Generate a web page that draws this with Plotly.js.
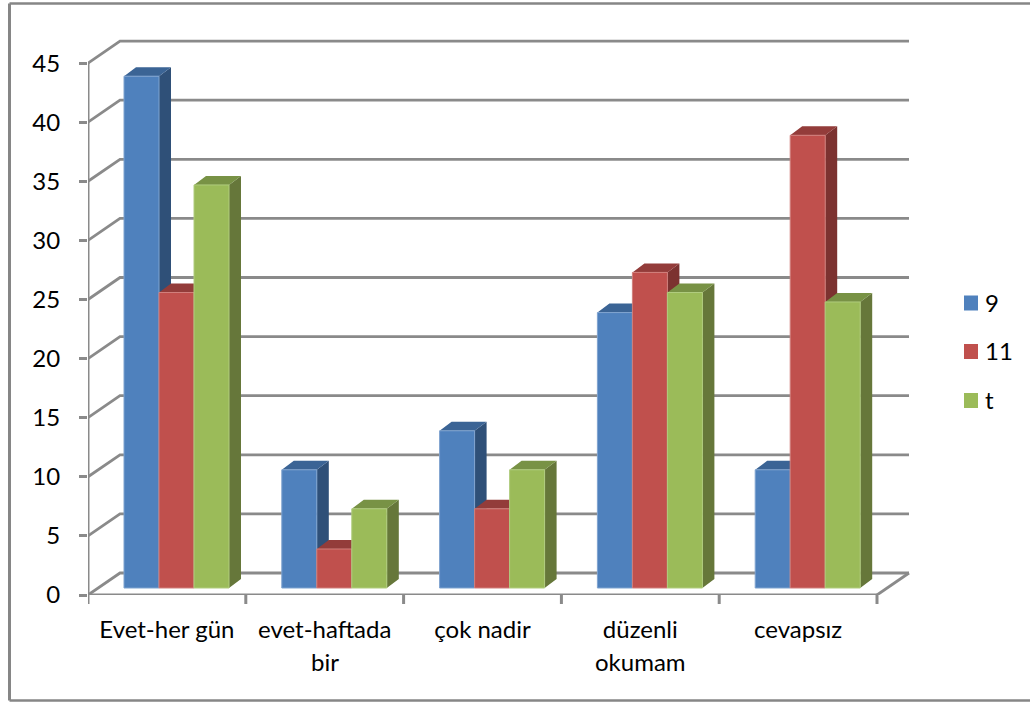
<!DOCTYPE html>
<html>
<head>
<meta charset="utf-8">
<script src="https://cdn.plot.ly/plotly-3.0.1.min.js"></script>
<style>html,body{margin:0;padding:0;background:#fff;overflow:hidden}</style>
</head>
<body>
<div id="chart" style="width:1030px;height:702px"></div>
<script>
// Survey answers per group
const categories = [['Evet-her gün'], ['evet-haftada', 'bir'], ['çok nadir'], ['düzenli', 'okumam'], ['cevapsız']];
const seriesNames = ['9', '11', 't'];
const values9 = [43.3, 10, 13.3, 23.3, 10];
const values11 = [25, 3.3, 6.7, 26.7, 38.3];
const valuesT = [34.1, 6.7, 10, 25, 24.2];
const yTicks = [0, 5, 10, 15, 20, 25, 30, 35, 40, 45];

const frontColors = ['#4F81BD', '#C0504D', '#9BBB59'];
const edgeColors = ['#7FA3CF', '#D17F7C', '#B0CC7E'];
const sideColors = ['#2F5078', '#7C3230', '#66773A'];
const topColors = ['#3B6495', '#933C3A', '#789245'];
const gridColor = '#8A8A8A';
const fontName = 'Lato, "Open Sans", sans-serif';
const fontSize = 24;

// Scale of the plot: pixels per category and per value unit
const catPx = 157.8, unitPx = 11.82;
const xOf = px => px / catPx, yOf = px => px / unitPx;
const wallDx = xOf(32), wallDy = yOf(22);
const barW = xOf(35), groupLeft = xOf(36), floorY = yOf(7);
const sideDx = xOf(12), topDy = yOf(9);

// Plot box in page pixels
const plotL = 88, plotB = 595, plotW = 840, plotH = 575;
const px = x => (x - plotL) / plotW, py = y => (plotB - y) / plotH;

const n = categories.length;
const traces = [];
const line = (x, y, width) => ({
  x, y, type: 'scatter', mode: 'lines', cliponaxis: false, hoverinfo: 'skip', showlegend: false, zorder: 0,
  line: {color: gridColor, width}
});

// Back wall gridlines with their diagonals down to the value axis
const gx = [], gy = [];
yTicks.forEach(v => {
  gx.push(0, wallDx, n + wallDx, null);
  gy.push(v, v + wallDy, v + wallDy, null);
});
gx.push(n, n + wallDx, null);
gy.push(0, wallDy, null);
traces.push(line(gx, gy, 2.8));

// Value axis and category axis
traces.push(line([0, 0, null, 0, n], [0, 45, null, 0, 0], 3));

// Column faces: side and top as polygons, the front as a bar
[values9, values11, valuesT].forEach((vals, s) => {
  const sx = [], sy = [], tx = [], ty = [], lefts = [];
  vals.forEach((v, i) => {
    const l = i + groupLeft + s * barW, r = l + barW, h = floorY + v;
    lefts.push(l);
    sx.push(r, r + sideDx, r + sideDx, r, r, null);
    sy.push(floorY, floorY + topDy, h + topDy, h, floorY, null);
    tx.push(l, l + sideDx, r + sideDx, r, l, null);
    ty.push(h, h + topDy, h + topDy, h, h, null);
  });
  const poly = (x, y, color) => ({
    x, y, type: 'scatter', mode: 'lines', fill: 'toself', fillcolor: color, cliponaxis: false,
    line: {width: 0, color}, hoverinfo: 'skip', showlegend: false, zorder: 1 + s * 2
  });
  traces.push(poly(sx, sy, sideColors[s]), poly(tx, ty, topColors[s]));
  traces.push({
    type: 'bar', name: seriesNames[s], x: lefts, y: vals, base: floorY, width: barW, offset: 0,
    marker: {color: frontColors[s], line: {color: edgeColors[s], width: 1}},
    showlegend: false, zorder: 2 + s * 2,
    customdata: categories.map(c => c.join(' ')),
    hovertemplate: '%{customdata}: %{y}<extra>' + seriesNames[s] + '</extra>'
  });
});

const annotations = [];
const shapes = [];
const textFont = {family: fontName, size: fontSize, color: '#000'};

// Tick marks under the category axis
for (let i = 0; i <= n; i++) {
  shapes.push({
    type: 'line', xref: 'x', yref: 'paper', x0: i, x1: i, y0: py(595), y1: py(604), layer: 'below',
    line: {color: gridColor, width: 3}
  });
}

// Second lines of two-line category names
categories.forEach((c, i) => {
  if (c[1]) annotations.push({
    x: i + 0.5, xref: 'x', y: py(661), yref: 'paper', yanchor: 'middle', text: c[1], showarrow: false, font: textFont
  });
});

// Legend keys on the right
const keyY = [303, 351.5, 400.5];
seriesNames.forEach((name, s) => {
  shapes.push({
    type: 'rect', xref: 'paper', yref: 'paper', layer: 'above', line: {width: 0}, fillcolor: frontColors[s],
    x0: px(964), x1: px(978), y0: py(keyY[s] + 7.5), y1: py(keyY[s] - 7.5)
  });
  annotations.push({
    xref: 'paper', yref: 'paper', x: px(983), y: py(keyY[s] - 1), xanchor: 'left', yanchor: 'middle',
    text: name, showarrow: false, font: textFont
  });
});

// Outer border, open on the right
[[9.5, 3.5, 1030, 3.5], [9.5, 3.5, 9.5, 700.5], [9.5, 700.5, 1030, 700.5]]
  .forEach(([x0, y0, x1, y1], i) => shapes.push({
    type: 'line', xref: 'paper', yref: 'paper', x0: px(x0), y0: py(y0), x1: px(x1), y1: py(y1),
    line: {color: '#868686', width: i === 1 ? 3 : 2.5}
  }));

const layout = {
  width: 1030, height: 702, autosize: false,
  margin: {l: plotL, r: 1030 - plotL - plotW, t: plotB - plotH, b: 702 - plotB, pad: 0},
  paper_bgcolor: '#fff', plot_bgcolor: 'rgba(0,0,0,0)',
  showlegend: false, barmode: 'overlay', hovermode: 'closest',
  font: {family: fontName, color: '#000', size: fontSize},
  xaxis: {
    range: [0, xOf(plotW)], showgrid: false, zeroline: false, showline: false, ticks: '',
    tickmode: 'array', tickvals: categories.map((c, i) => i + 0.5), ticktext: categories.map(c => c[0]),
    tickangle: 0, ticklabelstandoff: 18, tickfont: textFont
  },
  yaxis: {
    range: [0, yOf(plotH)], showgrid: false, zeroline: false, showline: false,
    tickmode: 'array', tickvals: yTicks, ticks: 'outside', ticklen: 8, tickwidth: 2.8, tickcolor: gridColor,
    ticklabelstandoff: 14, tickfont: textFont
  },
  shapes, annotations
};
Plotly.newPlot('chart', traces, layout, {displayModeBar: false});
</script>
</body>
</html>
